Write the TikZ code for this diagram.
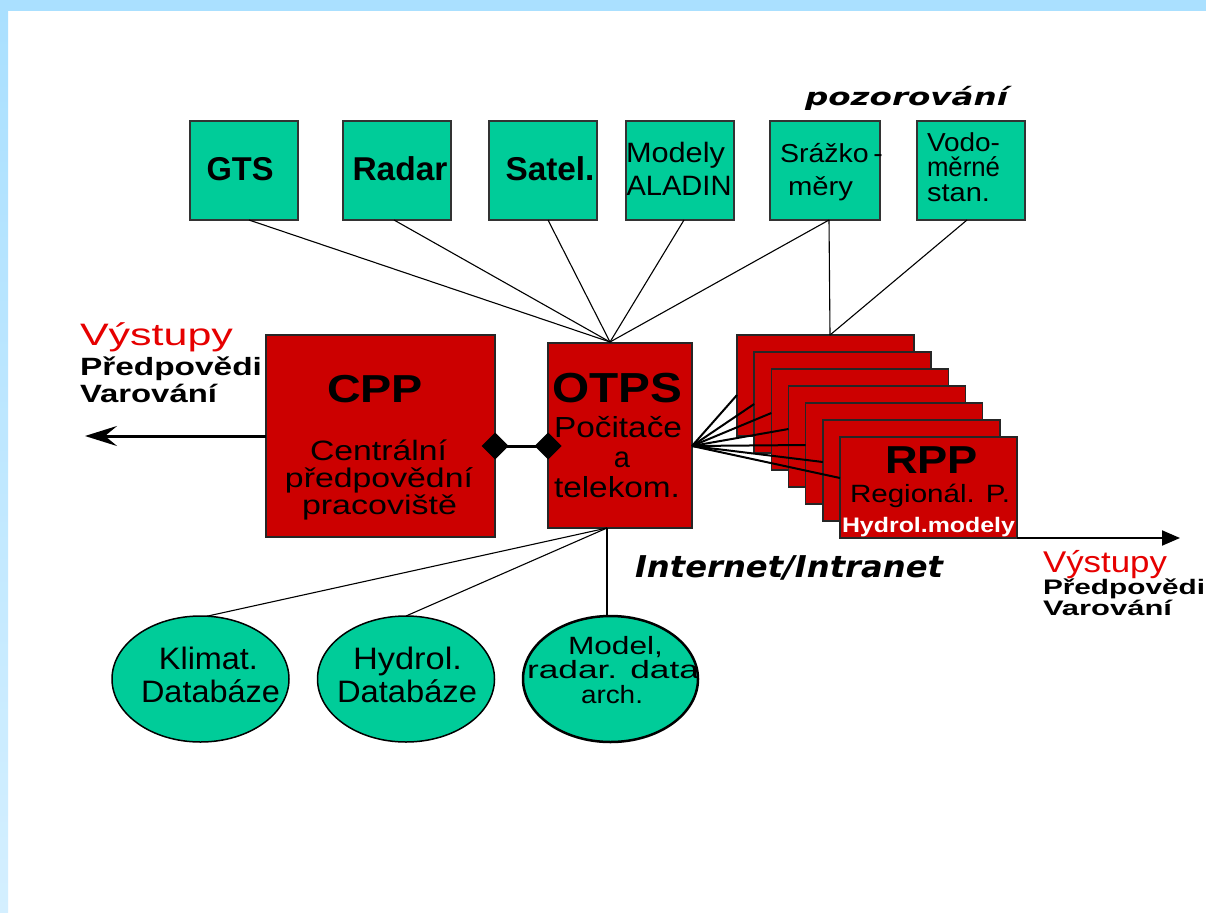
\documentclass[tikz,border=0pt]{standalone}
\usepackage{fontspec}
\usepackage{graphicx}
\setmainfont{Liberation Sans}
\newfontfamily\heavyfont{DejaVu Sans}
\usetikzlibrary{shapes.geometric,arrows.meta,calc}
\definecolor{boxgreen}{RGB}{0,204,153}
\definecolor{boxred}{RGB}{204,0,0}
\definecolor{bandblue}{RGB}{170,224,255}
\definecolor{bandbluelight}{RGB}{212,239,255}
\definecolor{outred}{RGB}{230,0,0}
\newcommand\fw[2]{\resizebox{#1pt}{\height}{#2}}
\newcommand\fsz[1]{\fontsize{#1}{#1}\selectfont}
\begin{document}
\begin{tikzpicture}[x=1pt,y=-1pt,
  every node/.style={outer sep=0pt},
  greenbox/.style={draw=black!80, line width=1.5pt, fill=boxgreen, minimum width=108pt, minimum height=99pt, inner sep=0pt, anchor=north west},
  redbox/.style={draw=black!85, line width=1.5pt, fill=boxred, inner sep=0pt, anchor=north west},
  dbell/.style={ellipse, draw=black, line width=1.5pt, fill=boxgreen, minimum width=177pt, minimum height=126pt, inner sep=0pt},
  lab/.style={inner sep=0pt, anchor=base},
  labw/.style={inner sep=0pt, anchor=base west},
  conn/.style={line width=1.1pt},
  fanline/.style={line width=2pt},
  dmd/.style={diamond, fill=black, minimum width=27pt, minimum height=27pt, inner sep=0pt}
]
\useasboundingbox (0,0) rectangle (1206,912);
\fill[white] (0,0) rectangle (1206,912);
\fill[bandblue] (0,0) rectangle (1206,11);
\shade[top color=bandblue,bottom color=bandbluelight] (0,11) rectangle (8,912);

% top boxes
\node[greenbox] (gts) at (190,121) {};
\node[greenbox] (radar) at (343,121) {};
\node[greenbox] (satel) at (489,121) {};
\node[greenbox] (modely) at (626,121) {};
\node[greenbox, minimum width=110pt] (srazko) at (770,121) {};
\node[greenbox] (vodo) at (917,121) {};

% central boxes
\node[redbox, minimum width=229pt, minimum height=202pt] (cpp) at (266,335) {};
\node[redbox, minimum width=144pt, minimum height=185pt] (otps) at (548,343) {};
\foreach \i in {1,...,7} {
  \node[redbox, minimum width=177pt, minimum height=101pt] (rpp\i) at ({737+17.17*(\i-1)},{335+17*(\i-1)}) {};
}

% connector points
\coordinate (ttop) at (610,342);
\coordinate (rtop) at (830,335);
\coordinate (fan) at (692,446);
\coordinate (bconv) at (607,528);
\coordinate (lout) at (85,436);
\coordinate (rout) at (1180,538);

\draw[conn] ($(gts.south west)+(59,0)$) -- (ttop);
\draw[conn] ($(radar.south west)+(51,0)$) -- (ttop);
\draw[conn] ($(satel.south west)+(59,0)$) -- (ttop);
\draw[conn] ($(modely.south west)+(58,0)$) -- (ttop);
\draw[conn] ($(srazko.south west)+(59,0)$) -- (ttop);
\draw[conn] ($(srazko.south west)+(59,0)$) -- (rtop);
\draw[conn] ($(vodo.south west)+(50,0)$) -- (rtop);

\foreach \i/\d in {1/60,2/52,3/44,4/43,5/42,6/42,7/41} {
  \draw[fanline] (fan) -- ($(rpp\i.north west)+(0,\d)$);
}

% diamonds
\draw[line width=3pt] (495,446) -- (548,446);
\node[dmd] (d1) at (495,446) {};
\node[dmd] (d2) at (548,446) {};

% arrows
\draw[line width=3pt, -{Stealth[length=32pt,width=20pt,inset=12pt]}] (cpp.west) -- (lout);
\draw[line width=2pt, -{Triangle[length=18pt,width=15pt]}] (rpp7.south east) -- (rout);

% ellipses
\node[dbell] (klimat) at (200.5,679) {};
\node[dbell] (hydrol) at (406,679) {};
\node[dbell, line width=2.5pt, minimum width=175pt] (model) at (610.5,679) {};

\draw[conn] (bconv) -- (klimat.84);
\draw[conn] (bconv) -- (hydrol.north);
\draw[line width=2pt] (bconv) -- (bconv |- model.north);

% labels
\node[lab] (pozor) at (906.5,106) {\heavyfont\bfseries\itshape\fsz{24}\fw{203}{pozorování}};
\node[lab] (inet) at (789,577) {\heavyfont\bfseries\itshape\fsz{30}\fw{308}{Internet/Intranet}};

\node[lab] (gtsT) at (240,181) {\fsz{33}\bfseries\fw{67}{GTS}};
\node[lab] (radarT) at (400,181) {\fsz{33}\bfseries\fw{95}{Radar}};
\node[lab] (satelT) at (550,181) {\fsz{33}\bfseries\fw{89}{Satel.}};
\node[lab] (modelyT1) at (675.5,163) {\fsz{28}\fw{99}{Modely}};
\node[lab] (modelyT2) at (679,196) {\fsz{28}\fw{105}{ALADIN}};
\node[lab] (srazT1) at (831.5,163) {\fsz{26}\fw{103}{Srážko\,-}};
\node[lab] (srazT2) at (820.5,195) {\fsz{26}\fw{65}{měry}};
\node[labw] (vodoT1) at (927,152) {\fsz{26}\fw{73}{Vodo-}};
\node[labw] (vodoT2) at (927,177) {\fsz{27}\fw{73}{měrné}};
\node[labw] (vodoT3) at (927,201) {\fsz{26}\fw{63}{stan.}};

\node[lab] (cppT) at (375,402) {\fsz{39}\bfseries\fw{96}{CPP}};
\node[lab] (cppT1) at (378.5,460) {\fsz{28}\fw{137}{Centrální}};
\node[lab] (cppT2) at (379,487) {\fsz{27}\fw{188}{předpovědní}};
\node[lab] (cppT3) at (379.5,514) {\fsz{27}\fw{155}{pracoviště}};

\node[labw] (loutT1) at (80,345) {\fsz{31}\color{outred}\fw{153}{Výstupy}};
\node[labw] (loutT2) at (80,375) {\fsz{25}\bfseries\fw{182}{Předpovědi}};
\node[labw] (loutT3) at (80,402) {\fsz{25}\bfseries\fw{137}{Varování}};

\node[lab] (otpsT) at (617,402) {\fsz{42}\bfseries\fw{130}{OTPS}};
\node[lab] (otpsT1) at (618,437) {\fsz{29}\fw{128}{Počitače}};
\node[lab] (otpsT2) at (622,467) {\fsz{29}a};
\node[lab] (otpsT3) at (617,497) {\fsz{29}\fw{126}{telekom.}};

\node[lab] (rppT) at (931.5,473) {\fsz{39}\bfseries\fw{93}{RPP}};
\node[lab] (rppT1) at (930,502) {\fsz{25}\fw{160}{Regionál. P.}};
\node[lab] (rppT2) at (928.5,532) {\fsz{21}\bfseries\color{white}\fw{173}{Hydrol.modely}};

\node[labw] (routT1) at (1043,572) {\fsz{30}\color{outred}\fw{124}{Výstupy}};
\node[labw] (routT2) at (1043,594) {\fsz{21}\bfseries\fw{162}{Předpovědi}};
\node[labw] (routT3) at (1043,615) {\fsz{21}\bfseries\fw{129}{Varování}};

\node[lab] (kT1) at (208.5,669) {\fsz{31}\fw{99}{Klimat.}};
\node[lab] (kT2) at (210.5,702) {\fsz{31}\fw{139}{Databáze}};
\node[lab] (hT1) at (407.5,669) {\fsz{31}\fw{109}{Hydrol.}};
\node[lab] (hT2) at (407,702) {\fsz{31}\fw{140}{Databáze}};
\node[lab] (mT1) at (615.5,654) {\fsz{25}\fw{95}{Model,}};
\node[lab] (mT2) at (613,678) {\fsz{25}\fw{172}{radar. data}};
\node[lab] (mT3) at (612,703) {\fsz{25}\fw{62}{arch.}};
\end{tikzpicture}
\end{document}
